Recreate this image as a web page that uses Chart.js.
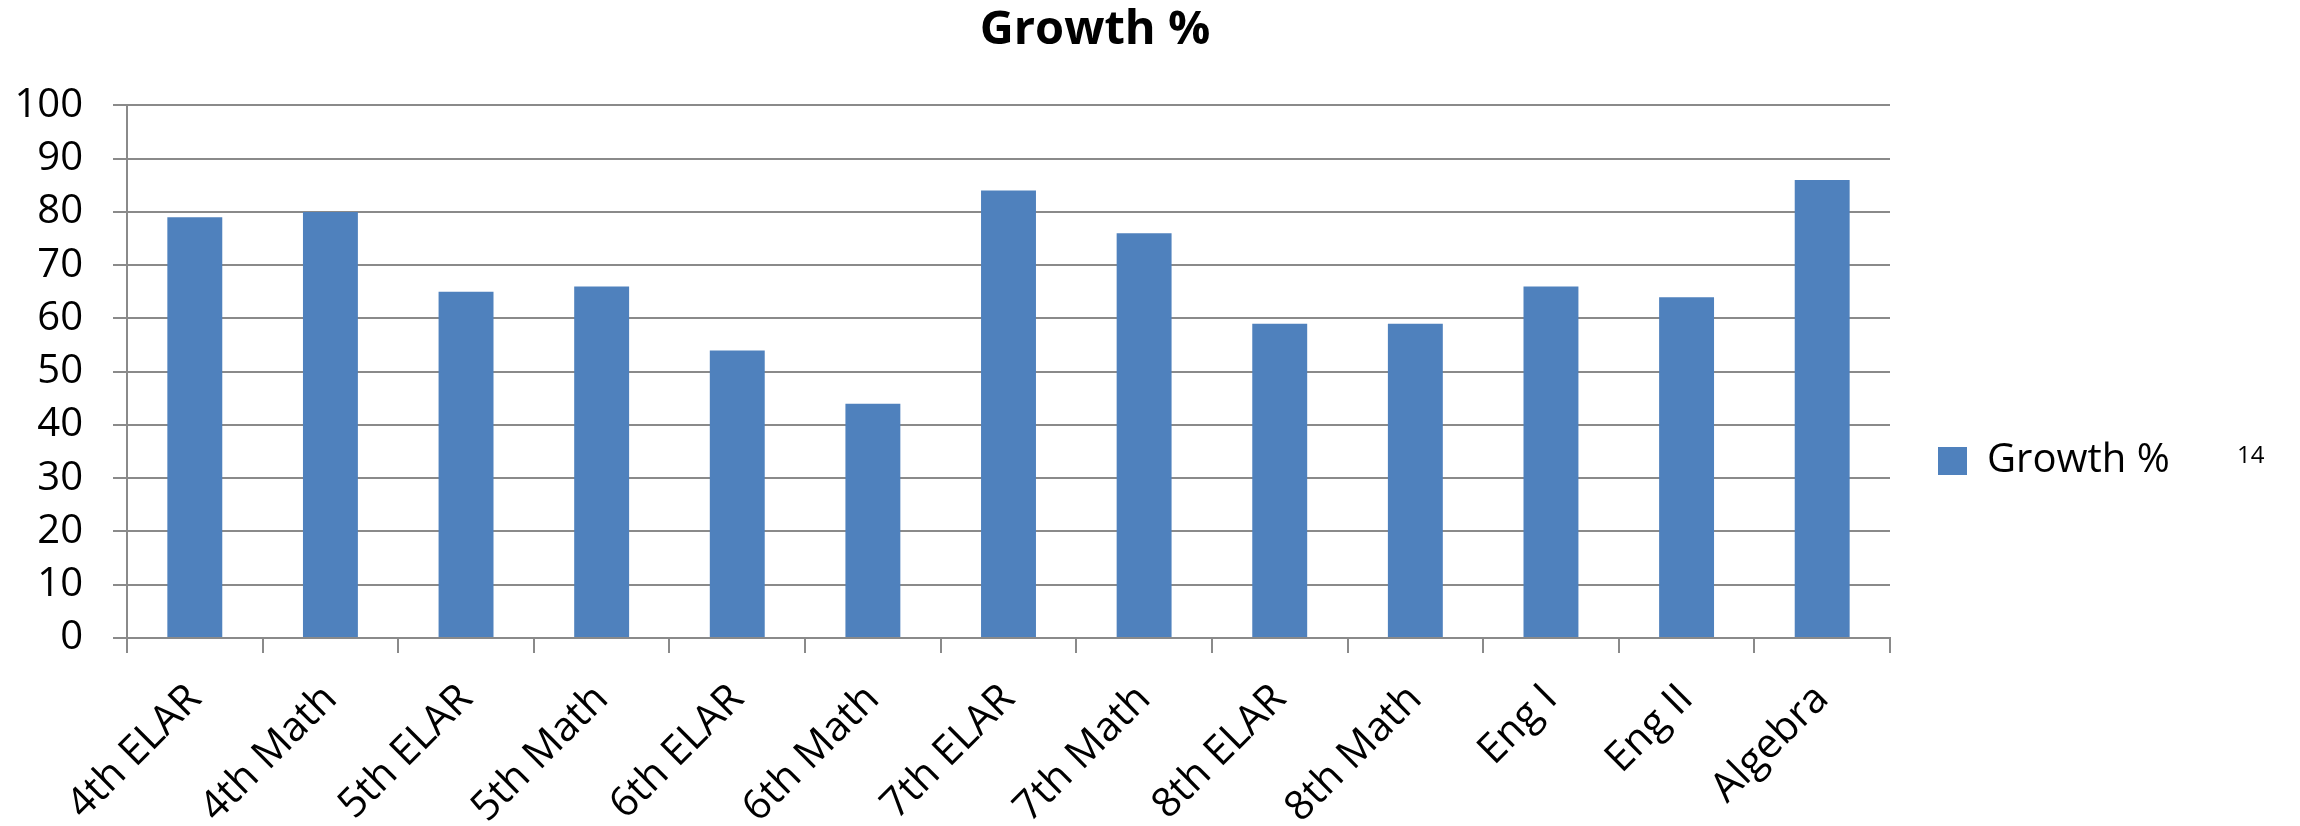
<!DOCTYPE html>
<html>
<head>
<meta charset="utf-8">
<style>
  html, body { margin: 0; padding: 0; background: #ffffff; }
  #wrap { position: relative; width: 2300px; height: 826px; }
</style>
<script src="https://cdn.jsdelivr.net/npm/chart.js@4.4.1/dist/chart.umd.min.js"></script>
</head>
<body>
<div id="wrap"><canvas id="chart" width="2300" height="826"></canvas></div>
<script>
// Subjects tested
const categories = ['4th ELAR', '4th Math', '5th ELAR', '5th Math', '6th ELAR', '6th Math',
                    '7th ELAR', '7th Math', '8th ELAR', '8th Math', 'Eng I', 'Eng II', 'Algebra'];
// Percent of students showing growth
const growth = [79, 80, 65, 66, 54, 44, 84, 76, 59, 59, 66, 64, 86];
// Value axis
const yMin = 0;
const yMax = 100;
const yStep = 10;

const FONT = '"Open Sans", Lato, sans-serif';
const GRID = '#8a8a8a';

// Legend column: fixed width, set a little away from the plot and lowered slightly
const legendPlacement = {
  id: 'legendPlacement',
  afterInit(chart) {
    const lg = chart.legend;
    const fit = lg.fit.bind(lg);
    lg.fit = function () { fit(); this.width = 300; };
  },
  afterLayout(chart) {
    const lg = chart.legend;
    lg.left += 38;
    lg.top += 48;
    lg.bottom += 48;
  }
};

// Page number printed beside the chart
const pageNumber = {
  id: 'pageNumber',
  afterDraw(chart) {
    const ctx = chart.ctx;
    ctx.save();
    ctx.fillStyle = '#000';
    ctx.font = '24px ' + FONT;
    ctx.textBaseline = 'alphabetic';
    ctx.textAlign = 'left';
    ctx.fillText('14', 2237, 463);
    ctx.restore();
  }
};

new Chart(document.getElementById('chart'), {
  type: 'bar',
  data: {
    labels: categories,
    datasets: [{
      label: 'Growth %',
      data: growth,
      backgroundColor: '#4f81bd',
      borderWidth: 0,
      categoryPercentage: 0.405,
      barPercentage: 1.0
    }]
  },
  options: {
    responsive: false,
    animation: false,
    layout: { padding: { left: 0, right: 110, top: 0, bottom: 0 } },
    plugins: {
      title: {
        display: true,
        text: 'Growth %',
        color: '#000',
        font: { family: FONT, size: 47, weight: 'bold' },
        padding: { top: 2, bottom: 47 }
      },
      legend: {
        position: 'right',
        labels: {
          color: '#000',
          font: { family: FONT, size: 40 },
          boxWidth: 29,
          boxHeight: 28,
          padding: 10
        }
      },
      tooltip: { enabled: false }
    },
    scales: {
      x: {
        offset: true,
        grid: {
          offset: true,
          drawOnChartArea: false,
          drawTicks: true,
          tickLength: 15,
          color: GRID,
          lineWidth: 2
        },
        border: { display: true, color: GRID, width: 2 },
        ticks: {
          color: '#000',
          font: { family: FONT, size: 41 },
          minRotation: 45,
          maxRotation: 45,
          autoSkip: false,
          padding: 22
        },
        afterFit(scale) { scale.height = 188; }
      },
      y: {
        min: yMin,
        max: yMax,
        grid: {
          drawOnChartArea: true,
          drawTicks: true,
          tickLength: 14,
          color: GRID,
          lineWidth: 2
        },
        border: { display: true, color: GRID, width: 2 },
        ticks: {
          stepSize: yStep,
          color: '#000',
          font: { family: FONT, size: 40 },
          padding: 30
        },
        afterFit(scale) { scale.width = 127; }
      }
    }
  },
  plugins: [legendPlacement, pageNumber]
});
</script>
</body>
</html>
